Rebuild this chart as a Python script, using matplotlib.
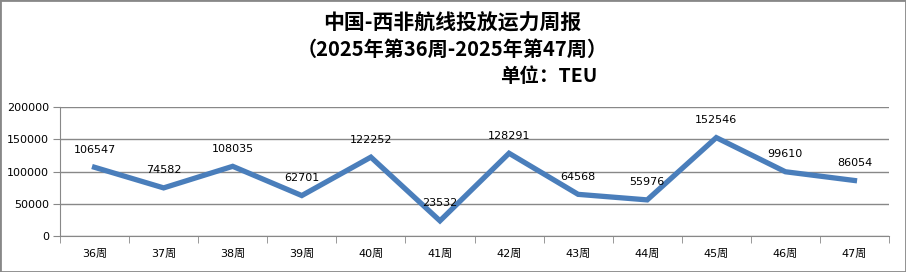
import matplotlib.pyplot as plt
from matplotlib.patches import Rectangle

# weekly capacity China - West Africa (TEU)
weeks = ['36周', '37周', '38周', '39周', '40周', '41周',
         '42周', '43周', '44周', '45周', '46周', '47周']
capacity = [106547, 74582, 108035, 62701, 122252, 23532,
            128291, 64568, 55976, 152546, 99610, 86054]
y_ticks = [0, 50000, 100000, 150000, 200000]

plt.rcParams['font.family'] = ['DejaVu Sans', 'Noto Sans CJK SC']

W, H = 906, 272
fig = plt.figure(figsize=(W / 100, H / 100), dpi=100)
ax = fig.add_axes([60 / W, 1 - 236 / H, (889 - 60) / W, (236 - 107) / H])

x = list(range(len(weeks)))
ax.plot(x, capacity, color='#4A7EBB', linewidth=3.8, solid_joinstyle='miter')

for xi, v in zip(x, capacity):
    ax.annotate(str(v), (xi, v), xytext=(0, 9), textcoords='offset points',
                ha='center', va='bottom', fontsize=8, color='black')

ax.set_xlim(-0.5, len(weeks) - 0.5)
ax.set_ylim(0, 200000)
ax.set_yticks(y_ticks)
ax.set_yticklabels([str(t) for t in y_ticks], fontsize=8)
ax.set_xticks(x)
ax.set_xticklabels(weeks, fontsize=8)
ax.tick_params(axis='x', length=0, pad=9)
ax.set_xticks([i - 0.5 for i in range(len(weeks) + 1)], minor=True)
ax.tick_params(axis='x', which='minor', length=5, color='#888888')
ax.tick_params(axis='y', length=5, color='#888888', pad=3)
ax.grid(axis='y', color='#888888', linewidth=1)
ax.set_axisbelow(True)
for s in ['top', 'right']:
    ax.spines[s].set_visible(False)
for s in ['left', 'bottom']:
    ax.spines[s].set_color('#888888')

title_font = ['Noto Sans CJK SC', 'DejaVu Sans']
fig.text(452 / W, 1 - 23 / H, '中国-西非航线投放运力周报', ha='center', va='center',
         fontsize=15, fontweight='bold', family=title_font)
fig.text(452 / W, 1 - 49 / H, '（2025年第36周-2025年第47周）', ha='center', va='center',
         fontsize=14.5, fontweight='bold', family=title_font)
fig.text(597 / W, 1 - 76 / H, '单位：TEU', ha='right', va='center',
         fontsize=14, fontweight='bold', family=title_font)

fig.patches.append(Rectangle((0, 0), 1, 1, transform=fig.transFigure,
                             fill=False, edgecolor='#888888', linewidth=2))

plt.savefig('out.png', dpi=100)
